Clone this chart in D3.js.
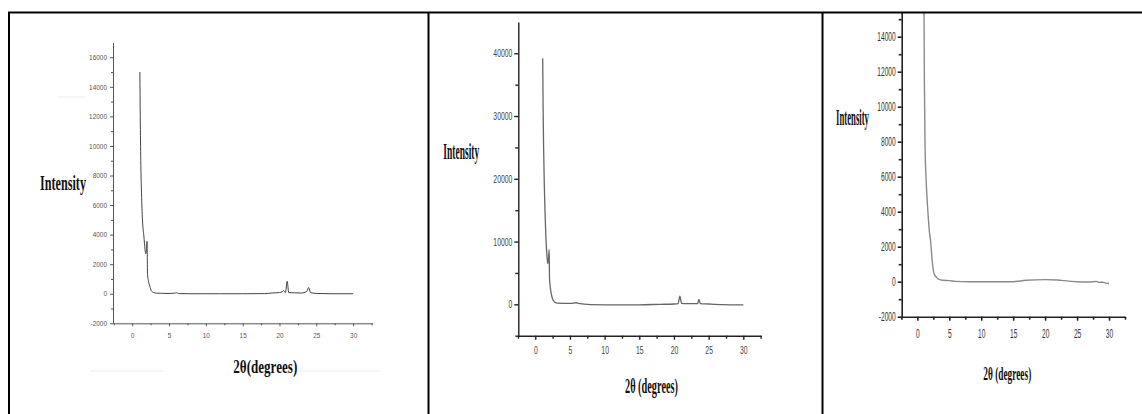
<!DOCTYPE html>
<html>
<head>
<meta charset="utf-8">
<script src="https://cdn.jsdelivr.net/npm/d3@7"></script>
<style>
    body { margin: 0; background: #fff; }
    svg { display: block; }
</style>
</head>
<body>
<div id="chart"></div>
<script>
// Data panel 1 (kiri)
const p1Theta = [1.05, 1.10, 1.17, 1.27, 1.40, 1.59, 1.75, 1.85, 1.95, 2.02, 2.05, 2.08, 2.20, 2.40, 2.60, 2.90, 3.30, 4, 5, 5.8, 6.0, 6.3, 8, 10, 12, 15, 18, 19, 20, 20.4, 20.55, 20.8, 21.05, 21.25, 22, 23, 23.7, 23.95, 24.2, 25, 27, 30];
const p1Intensity = [15000, 12000, 9000, 6800, 5000, 3900, 3000, 2700, 3000, 3550, 2800, 1400, 900, 500, 200, 80, 40, 30, 20, 40, 70, 10, 0, 0, 0, 0, 10, 50, 80, 150, 220, 60, 850, 80, 60, 50, 150, 420, 80, 20, 0, 0];

// Data panel 2 (tengah)
const p2Theta = [1.07, 1.12, 1.20, 1.30, 1.40, 1.52, 1.64, 1.79, 1.90, 2.00, 2.03, 2.05, 2.20, 2.40, 2.60, 2.85, 3.2, 5, 6, 6.2, 8, 12, 15, 18, 20, 20.6, 20.85, 21.1, 22, 23.4, 23.6, 23.8, 25, 27, 30];
const p2Intensity = [39200, 32000, 25000, 19000, 14800, 11000, 8400, 6500, 7200, 8700, 6000, 4100, 2400, 1200, 600, 300, 200, 150, 250, 150, -50, -100, -80, 0, 50, 100, 1300, 150, 100, 100, 800, 120, 50, -50, -100];

// Data panel 3 (kanan)
const p3Theta = [1.00, 1.05, 1.10, 1.20, 1.40, 1.63, 1.85, 2.10, 2.30, 2.60, 3.00, 3.30, 4, 5, 6, 8, 12, 15, 17, 20, 22, 23, 25, 27, 28, 28.5, 29, 29.5, 30];
const p3Intensity = [18000, 15000, 11500, 7900, 5600, 4100, 3000, 2200, 1300, 480, 250, 150, 80, 60, 20, 0, 0, 0, 80, 120, 100, 60, 0, -20, 20, -40, -30, -80, -100];

// Nilai tick
const xTicks = [0, 5, 10, 15, 20, 25, 30];
const xMinorTicks = [-2.5, 2.5, 7.5, 12.5, 17.5, 22.5, 27.5, 32.5];
const p1YTicks = [-2000, 0, 2000, 4000, 6000, 8000, 10000, 12000, 14000, 16000];
const p1YMinor = [-1000, 1000, 3000, 5000, 7000, 9000, 11000, 13000, 15000];
const p2YTicks = [0, 10000, 20000, 30000, 40000];
const p2YMinor = [-5000, 5000, 15000, 25000, 35000];
const p3YTicks = [-2000, 0, 2000, 4000, 6000, 8000, 10000, 12000, 14000];
const p3YMinor = [-1000, 1000, 3000, 5000, 7000, 9000, 11000, 13000, 15000];

const yLabel = "Intensity";
const xLabels = ["2θ(degrees)", "2θ (degrees)", "2θ (degrees)"];

const W = 1142, H = 414;
const svg = d3.select("#chart").append("svg")
    .attr("width", W)
    .attr("height", H);

// Clip supaya kurva panel 3 terpotong di garis atas
svg.append("defs").append("clipPath")
    .attr("id", "clip3")
    .append("rect")
    .attr("x", 823).attr("y", 13)
    .attr("width", W - 823).attr("height", H - 13);

// Garis samar di panel 1 (sisa gambar asli)
[[57, 85, 97], [90, 163, 371], [298, 380, 371]].forEach(([x1, x2, yy]) => {
    svg.append("line")
        .attr("x1", x1).attr("x2", x2)
        .attr("y1", yy).attr("y2", yy)
        .attr("stroke", "#ececec")
        .attr("stroke-width", 1);
});

// Teks serif tebal yang dipadatkan ke lebar tertentu
function squeezedLabel(txt, px, py, size, width) {
    const t = svg.append("text")
        .attr("x", 0).attr("y", 0)
        .style("font-family", "'Liberation Serif', 'Times New Roman', serif")
        .style("font-weight", "bold")
        .style("font-size", size + "px")
        .attr("fill", "#111")
        .text(txt);
    const s = width / t.node().getComputedTextLength();
    t.attr("transform", `translate(${px},${py}) scale(${s},1)`);
}

function drawPanel(cfg) {
    const g = svg.append("g");
    if (cfg.clip) g.attr("clip-path", `url(#${cfg.clip})`);

    const x = d3.scaleLinear().domain(cfg.xDomain).range(cfg.xRange);
    const y = d3.scaleLinear().domain(cfg.yDomain).range(cfg.yRange);

    // Sumbu Y (mayor)
    const yAx = g.append("g")
        .attr("transform", `translate(${cfg.xRange[0]},0)`)
        .call(d3.axisLeft(y).tickValues(cfg.yTicks).tickSize(cfg.tick)
            .tickPadding(cfg.yPad).tickSizeOuter(0).tickFormat((d) => String(d)));
    // Sumbu Y (minor)
    g.append("g")
        .attr("transform", `translate(${cfg.xRange[0]},0)`)
        .call(d3.axisLeft(y).tickValues(cfg.yMinor).tickSize(cfg.tick - 1)
            .tickFormat(""))
        .select(".domain").remove();

    // Sumbu X (mayor)
    const xAx = g.append("g")
        .attr("transform", `translate(0,${cfg.yRange[0]})`)
        .call(d3.axisBottom(x).tickValues(xTicks).tickSize(cfg.tick)
            .tickPadding(cfg.xPad).tickSizeOuter(0).tickFormat((d) => String(d)));
    g.append("g")
        .attr("transform", `translate(0,${cfg.yRange[0]})`)
        .call(d3.axisBottom(x).tickValues(xMinorTicks).tickSize(cfg.tick - 1)
            .tickFormat(""))
        .select(".domain").remove();

    g.selectAll(".domain, .tick line")
        .attr("stroke", cfg.axisColor)
        .attr("stroke-width", cfg.axisWidth);

    [yAx, xAx].forEach((ax) => {
        ax.selectAll("text")
            .attr("fill", cfg.tickColor)
            .style("font-family", "'Liberation Sans', Arial, sans-serif")
            .style("font-size", cfg.tickFont + "px");
    });
    yAx.selectAll("text").attr("transform", function () {
        const tx = +this.getAttribute("x");
        return `translate(${tx},0) scale(${cfg.squeeze},1) translate(${-tx},0)`;
    });
    xAx.selectAll("text").attr("transform", `scale(${cfg.squeeze},1)`);

    // Kurva difraksi
    const pts = cfg.theta.map((t, i) => ({ t, v: cfg.intensity[i] }));
    const line = d3.line()
        .x((d) => x(d.t))
        .y((d) => y(d.v))
        .curve(d3.curveMonotoneX);
    g.append("path")
        .datum(pts)
        .attr("fill", "none")
        .attr("stroke", cfg.lineColor)
        .attr("stroke-width", cfg.lineWidth)
        .attr("d", line);

    // Label sumbu
    squeezedLabel(yLabel, ...cfg.yLab);
    squeezedLabel(cfg.xText, ...cfg.xLab);
}

drawPanel({
    theta: p1Theta, intensity: p1Intensity,
    xDomain: [-2.6, 32.6], xRange: [113, 372.3],
    yDomain: [-2000, 17000], yRange: [323.3, 42.5],
    yTicks: p1YTicks, yMinor: p1YMinor,
    tick: 3, yPad: 3, xPad: 7,
    tickFont: 7, squeeze: 0.92, tickColor: "#555",
    axisColor: "#555", axisWidth: 1,
    lineColor: "#444", lineWidth: 1,
    yLab: [40, 189.5, 22, 46], xLab: [233.3, 372.5, 19, 64], xText: xLabels[0]
});

drawPanel({
    theta: p2Theta, intensity: p2Intensity,
    xDomain: [-2.45, 32.55], xRange: [518.3, 761],
    yDomain: [-5000, 45000], yRange: [335.7, 21.9],
    yTicks: p2YTicks, yMinor: p2YMinor,
    tick: 4, yPad: 2, xPad: 7,
    tickFont: 11, squeeze: 0.62, tickColor: "#444",
    axisColor: "#222", axisWidth: 1.4,
    lineColor: "#666", lineWidth: 1.3,
    yLab: [443.3, 158.5, 24, 36], xLab: [625, 393, 20, 53], xText: xLabels[1]
});

drawPanel({
    theta: p3Theta, intensity: p3Intensity,
    xDomain: [-2.45, 32.5], xRange: [901.7, 1125],
    yDomain: [-2000, 16000], yRange: [316.7, 1.7],
    yTicks: p3YTicks, yMinor: p3YMinor,
    tick: 4, yPad: 2, xPad: 8,
    tickFont: 12.5, squeeze: 0.53, tickColor: "#333",
    axisColor: "#222", axisWidth: 1.6,
    lineColor: "#8a8a8a", lineWidth: 1.4,
    yLab: [836, 125, 24, 33], xLab: [983.3, 380, 19, 48], xText: xLabels[2],
    clip: "clip3"
});

// Bingkai tabel
const frame = [
    [8, 12.5, W, 12.5],
    [9, 12, 9, H],
    [428.5, 12, 428.5, H],
    [822.5, 12, 822.5, H]
];
frame.forEach(([x1, y1, x2, y2]) => {
    svg.append("line")
        .attr("x1", x1).attr("y1", y1)
        .attr("x2", x2).attr("y2", y2)
        .attr("stroke", "#000")
        .attr("stroke-width", 2);
});
</script>
</body>
</html>
